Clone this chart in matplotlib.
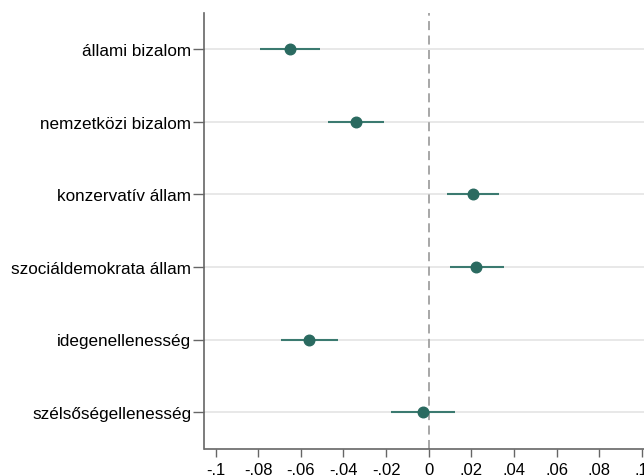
import matplotlib.pyplot as plt

# koefficiensek es konfidencia intervallumok
labels = ["állami bizalom", "nemzetközi bizalom", "konzervatív állam",
          "szociáldemokrata állam", "idegenellenesség", "szélsőségellenesség"]
coef = [-0.0653, -0.0343, 0.0207, 0.0224, -0.0563, -0.0027]
ci_lo = [-0.0793, -0.0474, 0.0085, 0.0100, -0.0695, -0.0177]
ci_hi = [-0.0512, -0.0211, 0.0329, 0.0351, -0.0427, 0.0124]
xticks = [-0.1, -0.08, -0.06, -0.04, -0.02, 0, 0.02, 0.04, 0.06, 0.08, 0.1]
xticklabels = ["-.1", "-.08", "-.06", "-.04", "-.02", "0", ".02", ".04", ".06", ".08", ".1"]

plt.rcParams['font.family'] = ['Liberation Sans', 'DejaVu Sans']

fig = plt.figure(figsize=(6.44, 4.77), dpi=100)
ax = fig.add_axes([204.5/644, 27.5/477, 448/644, 436/477])

ypos = list(range(1, len(labels) + 1))
for y in ypos:
    ax.axhline(y, color='#e6e6e6', lw=1.3, zorder=0)
ax.axvline(0, color='#a0a0a0', lw=1.3, ls=(0, (5, 3)), zorder=1)

ax.hlines(ypos, ci_lo, ci_hi, color='#3b7a70', lw=1.5, zorder=2)
ax.plot(coef, ypos, 'o', color='#2a6a60', markersize=7.6, zorder=3)

ax.set_ylim(6.5, 0.5)
ax.set_xlim(-0.1052, 0.105)
ax.set_yticks(ypos)
ax.set_yticklabels(labels, fontsize=12.3)
ax.set_xticks(xticks)
ax.set_xticklabels(xticklabels, fontsize=12)

for s in ['top', 'right']:
    ax.spines[s].set_visible(False)
for s in ['left', 'bottom']:
    ax.spines[s].set_color('#666666')
    ax.spines[s].set_linewidth(1.2)
ax.tick_params(axis='x', color='#666666', length=5.5, width=1, pad=4.5)
ax.tick_params(axis='y', color='#666666', length=8, width=1, pad=1.5)

fig.savefig('out.png', dpi=100)
